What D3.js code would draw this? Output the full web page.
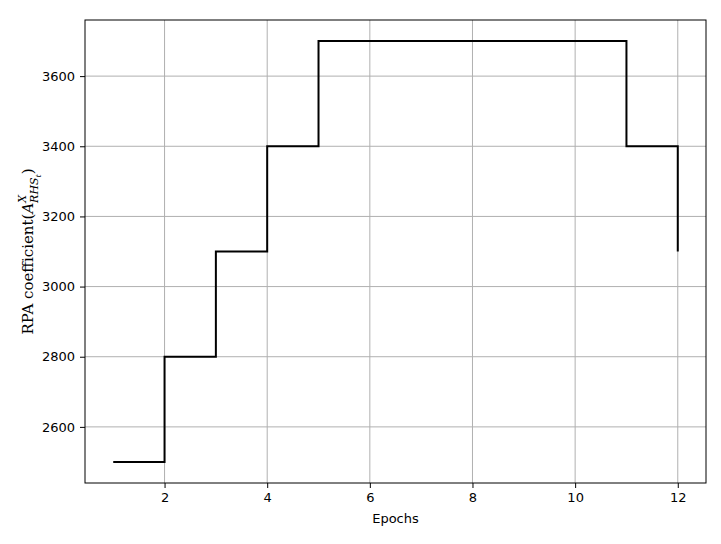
<!DOCTYPE html>
<html>
<head>
<meta charset="utf-8">
<script src="https://cdn.jsdelivr.net/npm/d3@7"></script>
<style>
  body { margin: 0; background: white; }
  .tick text { font-family: "DejaVu Sans", sans-serif; font-size: 13px; fill: #000; }
</style>
</head>
<body>
<div id="chart"></div>
<script>
var epochs = [1, 2, 3, 4, 5, 6, 7, 8, 9, 10, 11, 12];
var coeffs = [2500, 2800, 3100, 3400, 3700, 3700, 3700, 3700, 3700, 3700, 3400, 3100];
var xTicks = [2, 4, 6, 8, 10, 12];
var yTicks = [2600, 2800, 3000, 3200, 3400, 3600];

var margin = {top: 20, right: 15, bottom: 61, left: 85};
var width = 721 - margin.left - margin.right,
    height = 544 - margin.top - margin.bottom;

var xScale = d3.scaleLinear().domain([0.45, 12.55]).range([0, width]);
var yScale = d3.scaleLinear().domain([2440, 3760]).range([height, 0]);

var svg = d3.select('#chart').append('svg')
  .attr('width', 721)
  .attr('height', 544);

var g = svg.append('g')
  .attr('transform', 'translate(' + margin.left + ',' + margin.top + ')');

// grid
g.selectAll('.vgrid').data(xTicks).enter().append('line')
  .attr('x1', function(d) { return xScale(d); })
  .attr('x2', function(d) { return xScale(d); })
  .attr('y1', 0).attr('y2', height)
  .style('stroke', '#b0b0b0').style('stroke-width', 1);

g.selectAll('.hgrid').data(yTicks).enter().append('line')
  .attr('y1', function(d) { return yScale(d); })
  .attr('y2', function(d) { return yScale(d); })
  .attr('x1', 0).attr('x2', width)
  .style('stroke', '#b0b0b0').style('stroke-width', 1);

// step line
var line = d3.line()
  .x(function(d, i) { return xScale(epochs[i]); })
  .y(function(d) { return yScale(d); })
  .curve(d3.curveStepAfter);

g.append('path')
  .datum(coeffs)
  .attr('d', line)
  .style('fill', 'none')
  .style('stroke', '#000')
  .style('stroke-width', 2);

// axes
var xAxis = g.append('g')
  .attr('transform', 'translate(0,' + height + ')')
  .call(d3.axisBottom(xScale).tickValues(xTicks).tickSize(5).tickPadding(5).tickFormat(d3.format('d')));

var yAxis = g.append('g')
  .call(d3.axisLeft(yScale).tickValues(yTicks).tickSize(5).tickPadding(5).tickFormat(d3.format('d')));

[xAxis, yAxis].forEach(function(a) {
  a.select('.domain').remove();
  a.selectAll('.tick line').style('stroke', '#000').style('stroke-width', 1);
});

// frame
g.append('rect')
  .attr('width', width).attr('height', height)
  .style('fill', 'none').style('stroke', '#000').style('stroke-width', 1);

// labels
svg.append('text')
  .attr('x', margin.left + width / 2)
  .attr('y', 523)
  .attr('text-anchor', 'middle')
  .style('font-family', '"DejaVu Sans", sans-serif')
  .style('font-size', '13px')
  .text('Epochs');

var yl = svg.append('text')
  .attr('transform', 'translate(33,' + (margin.top + height / 2) + ') rotate(-90)')
  .attr('text-anchor', 'middle')
  .style('font-family', '"DejaVu Serif", serif')
  .style('font-size', '15px');
yl.append('tspan').text('RPA coefficient(');
yl.append('tspan').style('font-style', 'italic').text('A');
yl.append('tspan').style('font-style', 'italic').style('font-size', '11px').attr('dy', -7).attr('dx', 0).text('X');
yl.append('tspan').style('font-style', 'italic').style('font-size', '11px').attr('dy', 12).attr('dx', -8).text('RHS');
yl.append('tspan').style('font-style', 'italic').style('font-size', '8px').attr('dy', 3).text('t');
yl.append('tspan').attr('dy', -8).text(')');
</script>
</body>
</html>
